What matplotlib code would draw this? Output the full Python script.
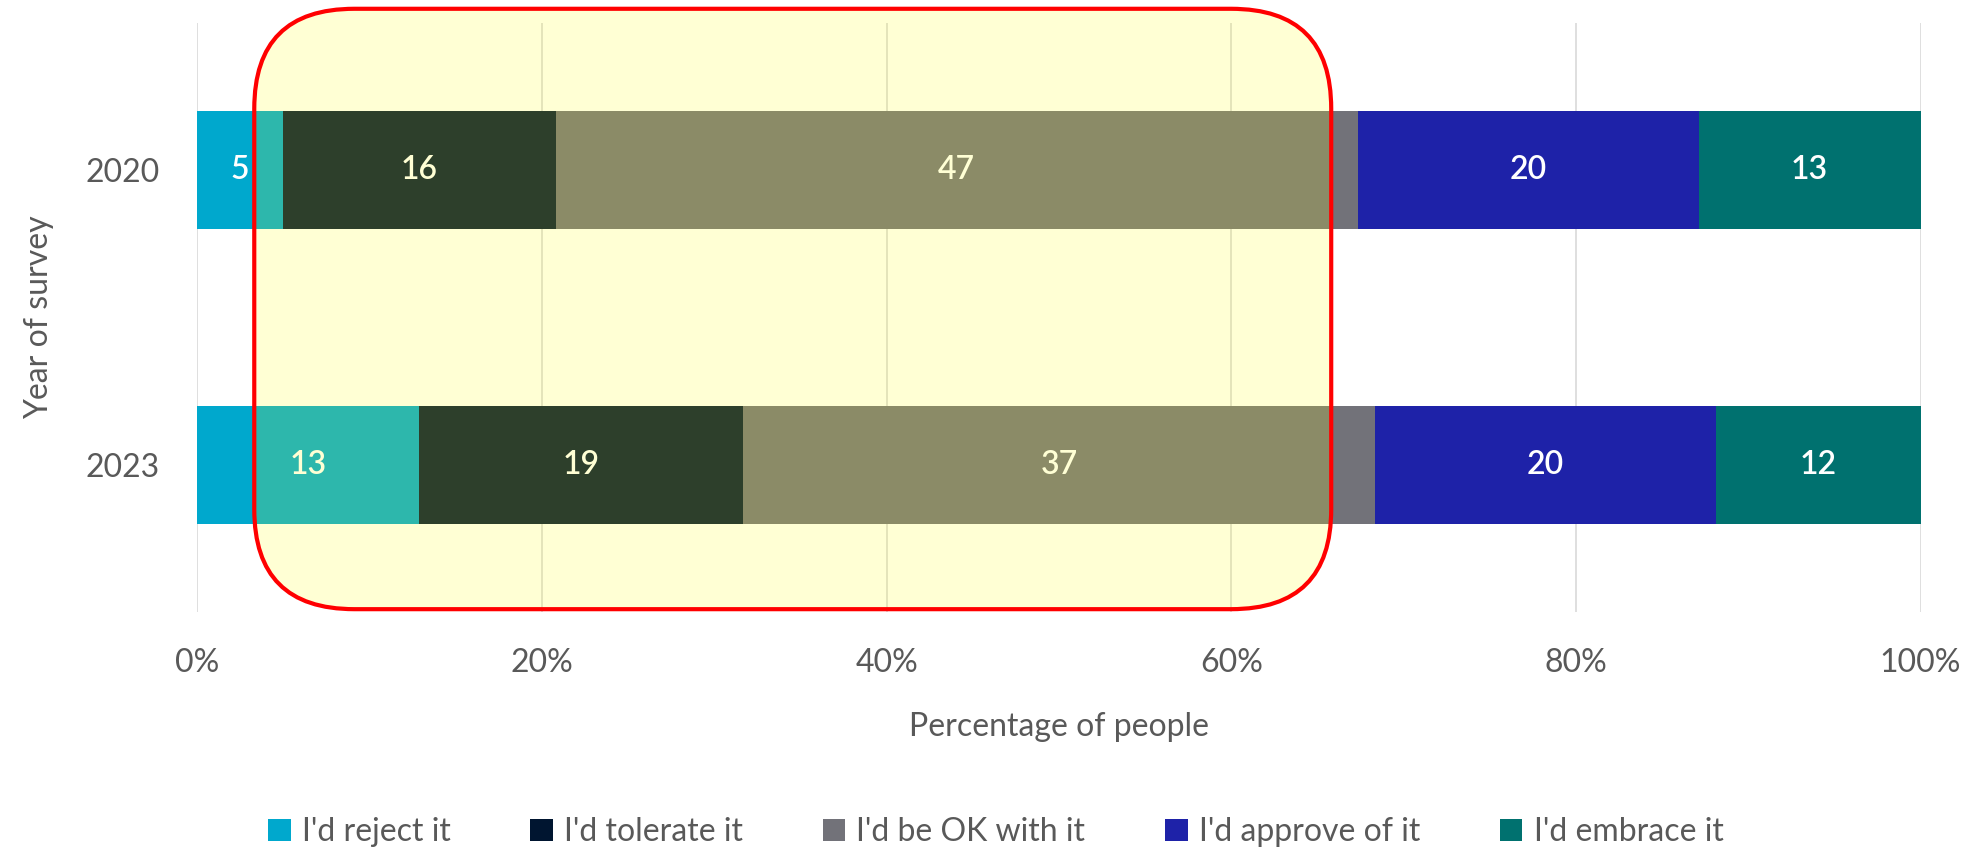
import numpy as np
import matplotlib.pyplot as plt
from matplotlib.patches import FancyBboxPatch

plt.rcParams['font.family'] = ['Lato', 'DejaVu Sans']

years = ['2020', '2023']
categories = ["I'd reject it", "I'd tolerate it", "I'd be OK with it", "I'd approve of it", "I'd embrace it"]
reject = [5, 13]
tolerate = [16, 19]
ok = [47, 37]
approve = [20, 20]
embrace = [13, 12]
colors = ['#00A8CD', '#001530', '#727279', '#1E22A8', '#00716F']

series = np.array([reject, tolerate, ok, approve, embrace], dtype=float)
pct = series / series.sum(axis=0) * 100

grey = '#595959'
fig = plt.figure(figsize=(19.72, 8.51), dpi=100)
ax = fig.add_axes([0.1001, 0.2807, 0.8738, 0.6927])

y = np.arange(len(years))
left = np.zeros(len(years))
for i, cat in enumerate(categories):
    ax.barh(y, pct[i], left=left, height=0.4, color=colors[i], label=cat, zorder=2)
    for j in range(len(years)):
        ax.text(left[j] + pct[i][j] / 2, y[j], f'{int(series[i][j])}', ha='center', va='center',
                color='white', fontsize=23, fontweight='semibold', zorder=3)
    left += pct[i]

ax.set_xlim(0, 100)
ax.set_ylim(1.5, -0.5)
ax.set_yticks(y)
ax.set_yticklabels(years)
ax.set_xticks(np.arange(0, 101, 20))
ax.set_xticklabels([f'{v}%' for v in range(0, 101, 20)])
ax.tick_params(length=0, labelsize=23, labelcolor=grey)
ax.tick_params(axis='x', pad=26)
ax.tick_params(axis='y', pad=27)
ax.grid(axis='x', color='#D9D9D9', lw=1.2, zorder=0)
for s in ax.spines.values():
    s.set_visible(False)

ax.set_xlabel('Percentage of people', fontsize=23, color=grey, labelpad=24)
ax.set_ylabel('Year of survey', fontsize=23, color=grey)
ax.yaxis.set_label_coords(-0.083, 0.5)

# highlight box
box = FancyBboxPatch((3.3, -0.547), 62.5, 2.037, boxstyle='round,pad=0,rounding_size=5.8',
                     mutation_aspect=0.0584, facecolor=(1, 1, 0.086, 0.18), edgecolor='red',
                     lw=3, clip_on=False, zorder=5)
ax.add_patch(box)

fig.legend(loc='center', bbox_to_anchor=(0.505, 0.022), ncol=5, frameon=False, fontsize=23,
           labelcolor=grey, handlelength=0.7, handleheight=0.7, handletextpad=0.35, columnspacing=2.5)

fig.savefig('out.png', dpi=100)
